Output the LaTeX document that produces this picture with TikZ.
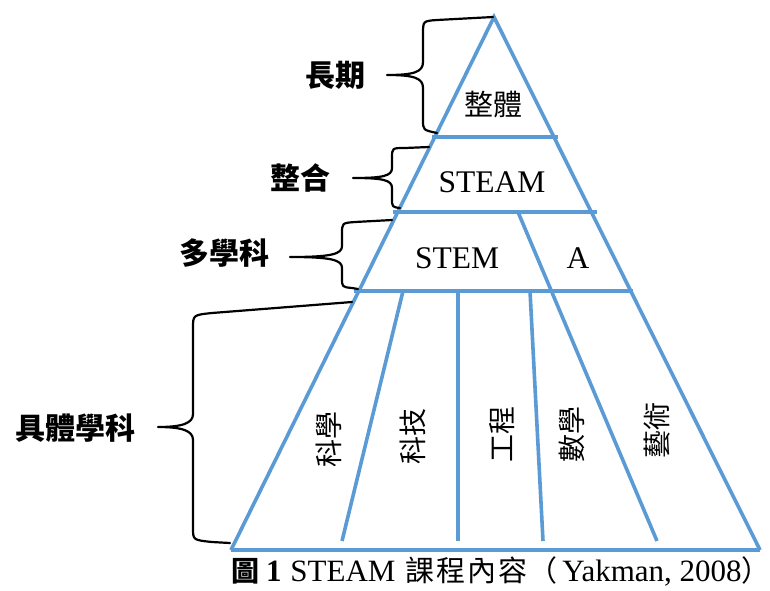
\documentclass[tikz,border=0pt]{standalone}
\usepackage{fontspec}
\setmainfont{Liberation Serif}
\newfontfamily\cjk{Noto Sans CJK TC}
\definecolor{pyblue}{RGB}{91,155,213}
\begin{document}
\begin{tikzpicture}[x=1pt,y=-1pt,
  edge/.style={draw=pyblue,line width=3.6pt},
  brace/.style={draw=black,line width=2.2pt,line join=round,line cap=round},
  lbl/.style={font=\fontsize{31.5}{36}\selectfont,inner sep=0pt},
  cjklbl/.style={font=\cjk\fontsize{29}{34}\selectfont,inner sep=0pt},
  side/.style={font=\cjk\bfseries\fontsize{30}{36}\selectfont,inner sep=0pt},
  vlab/.style={font=\cjk\fontsize{28}{34}\selectfont,rotate=90,inner sep=0pt}]
\useasboundingbox[fill=white] (0,0) rectangle (770,590);
% pyramid corners
\coordinate (apex) at (494,17);
\coordinate (bl) at (231,550);
\coordinate (br) at (760,550);
\draw[edge] (bl) -- (apex) -- (br);
\draw[edge] (bl) -- (br);
% levels
\coordinate (l1a) at (432,137); \coordinate (l1b) at (558,137);
\coordinate (l2a) at (393,212); \coordinate (l2b) at (597,212);
\coordinate (l3a) at (354,291); \coordinate (l3b) at (633,291);
\draw[edge] (l1a) -- (l1b);
\draw[edge] (l2a) -- (l2b);
\draw[edge] (l3a) -- (l3b);
% dividers
\coordinate (d1t) at (403,291); \coordinate (d1b) at (342,541);
\coordinate (d2t) at (458,291); \coordinate (d2b) at (458,541);
\coordinate (d3t) at (530,291); \coordinate (d3b) at (543,541);
\coordinate (d4t) at (518,212); \coordinate (d4b) at (657,541);
\draw[edge] (d1t) -- (d1b);
\draw[edge] (d2t) -- (d2b);
\draw[edge] (d3t) -- (d3b);
\draw[edge] (d4t) -- (d4b);
% inner labels
\node[cjklbl] (whole) at (493,105) {整體};
\node[lbl] (steam) at (492,182) {STEAM};
\node[lbl] (stem) at (457,258) {STEM};
\node[lbl] (art) at (578,258) {A};
\node[vlab] (sci) at (329,439) {科學};
\node[vlab] (tech) at (413,436) {科技};
\node[vlab] (eng) at (502,434) {工程};
\node[vlab] (math) at (572,434) {數學};
\node[vlab] (arts) at (657,430) {藝術};
% braces
\draw[brace] (493,17) -- (437,20) .. controls (423,21) .. (423,34) -- (423,62)
  .. controls (423,72) and (414,75) .. (387,75)
  .. controls (414,75) and (423,78) .. (423,88) -- (423,120)
  .. controls (423,130) .. (437,133);
\draw[brace] (429,147) -- (405,148) .. controls (392,148) .. (392,158) -- (392,168)
  .. controls (392,176) and (383,178) .. (353,178)
  .. controls (383,178) and (392,180) .. (392,188) -- (392,198)
  .. controls (392,207) .. (400,208);
\draw[brace] (392,220) -- (355,222) .. controls (342,223) .. (342,234) -- (342,246)
  .. controls (342,254) and (332,257) .. (290,257)
  .. controls (332,257) and (342,260) .. (342,268) -- (342,278)
  .. controls (342,287) .. (352,288) -- (358,289);
\draw[brace] (352,302) -- (212,313) .. controls (193,315) .. (193,328) -- (193,414)
  .. controls (193,423) and (183,427) .. (158,427)
  .. controls (183,427) and (193,431) .. (193,440) -- (193,528)
  .. controls (193,540) .. (212,542) -- (230,543);
% side labels
\node[side] (long) at (335,75) {長期};
\node[side] (integ) at (300,178) {整合};
\node[side] (multi) at (224,253) {多學科};
\node[side] (concrete) at (75,428) {具體學科};
% caption
\node[anchor=west,inner sep=0pt,font=\fontsize{31}{34}\selectfont] (cap) at (231,571)
  {{\cjk\bfseries\fontsize{28}{34}\selectfont 圖}\hspace{7pt}\textbf{1}\hspace{1pt} STEAM\hspace{2pt} {\cjk\fontsize{29}{34}\selectfont 課\hspace{2pt}程\hspace{2pt}內\hspace{2pt}容\hspace{1pt}（\hspace{5pt}}Yakman, 2008{\cjk\fontsize{29}{34}\selectfont ）}};
\end{tikzpicture}
\end{document}
